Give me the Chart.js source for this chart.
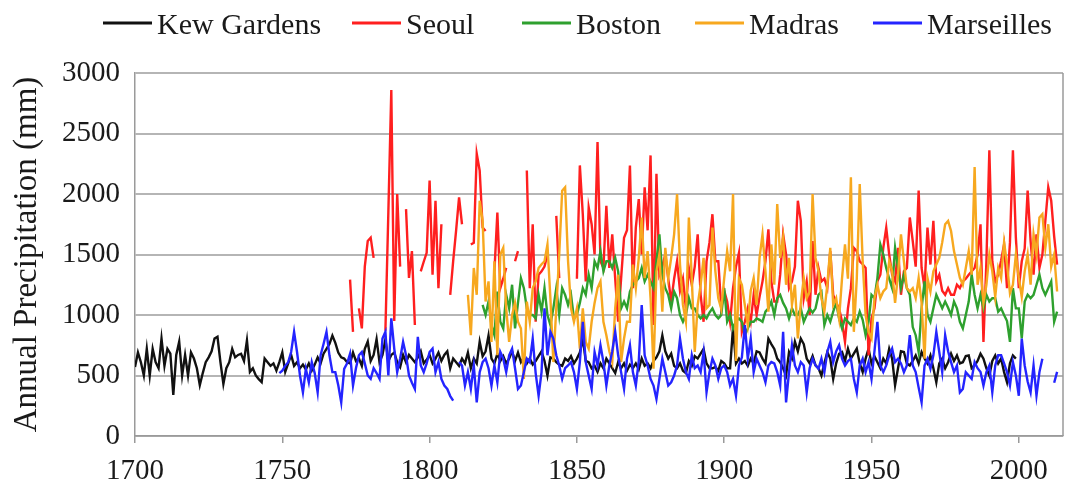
<!DOCTYPE html>
<html>
<head>
<meta charset="utf-8">
<script src="https://cdn.jsdelivr.net/npm/chart.js@4.4.1/dist/chart.umd.min.js"></script>
<style>
html,body{margin:0;padding:0;background:#fff;}
#wrap{width:1067px;height:486px;position:relative;}
</style>
</head>
<body>
<div id="wrap"><canvas id="c" width="1067" height="486"></canvas></div>
<script>
// ---- Data (annual precipitation, mm) ----
const seriesNames = ['Kew Gardens', 'Seoul', 'Boston', 'Madras', 'Marseilles'];
const xTicks = [1700, 1750, 1800, 1850, 1900, 1950, 2000];
const yTicks = [0, 500, 1000, 1500, 2000, 2500, 3000];

const kewStart = 1700;
const kewValues = [
  570, 690, 610, 500, 720, 500, 720, 610, 560, 805,
  580, 720, 680, 340, 670, 780, 500, 670, 500, 690,
  640, 560, 420, 520, 610, 650, 700, 805, 820, 610,
  430, 560, 610, 720, 650, 670, 680, 620, 790, 530,
  560, 500, 470, 445, 640, 610, 580, 600, 540, 610,
  690, 530, 600, 670, 580, 610, 560, 590, 550, 600,
  540, 590, 650, 600, 680, 720, 760, 830, 770, 690,
  650, 640, 610, 600, 690, 620, 640, 580, 720, 780,
  620, 670, 800, 610, 670, 800, 620, 670, 690, 610,
  570, 670, 610, 670, 640, 610, 650, 700, 600, 630,
  670, 600, 640, 690, 620, 670, 700, 560, 640, 610,
  580, 640, 600, 690, 560, 640, 600, 780, 660, 700,
  830, 640, 600, 680, 620, 660, 600, 640, 700, 620,
  690, 610, 650, 600, 640, 590, 620, 660, 700, 620,
  500, 650, 640, 610, 590, 580, 640, 620, 660, 600,
  640, 690, 805, 620, 610, 560, 580, 530, 600, 560,
  640, 600, 560, 520, 610, 560, 600, 540, 590, 560,
  600, 550, 640, 580, 600, 560, 620, 650, 700, 830,
  700, 640, 680, 580, 560, 600, 540, 520, 620, 580,
  660, 640, 680, 720, 600, 560, 560, 570, 540, 620,
  600, 560, 560, 900, 600, 640, 600, 620, 580, 640,
  600, 700, 690, 640, 600, 805, 760, 720, 640, 610,
  560, 500, 694, 640, 780, 700, 805, 760, 640, 600,
  660, 583, 560, 500, 600, 694, 640, 472, 600, 680,
  694, 620, 722, 640, 680, 722, 600, 528, 640, 722,
  600, 660, 610, 560, 639, 600, 722, 640, 420, 560,
  700, 694, 600, 583, 620, 666, 600, 694, 640, 600,
  666, 560, 444, 600, 639, 560, 610, 680, 620, 666,
  600, 610, 660, 666, 560, 583, 620, 680, 639, 560,
  500, 620, 666, 600, 640, 528, 444, 600, 666, 640
];

const seoulStart = 1773;
const seoulValues = [
  1292, 861, null, 1055, 889, 1400, 1611,
  1639, 1472, null, null, null, 870, 1850, 2860, 950, 2000,
  1400, null, 1875, 1306, 1528, 917, null, 1361, 1440, 1514,
  2111, 1333, 1944, 1222, 1750, null, null, 1167, 1445, 1700,
  1972, 1750, null, null, 1583, 1597, 2333, 2194, 1722, 1694,
  null, null, 1361, 1847, 1222, 1300, 1389, null, null, 1444,
  1528, null, null, 2194, 1222, 1750, 944, 1333, 1361, 1400,
  1500, null, null, 1819, 1305, null, null, null, null, null,
  1300, 2236, 1833, 1278, 1889, 1750, 1500, 2430, 1444, 1389,
  1903, 1389, 1667, 1300, 944, 1300, 1639, 1700, 2236, 1222,
  1722, 1958, 1500, 2056, 1700, 2319, 917, 2167, 1333, 1400,
  1500, 1300, 1111, 1300, 1444, 1200, 1300, 1055, 1389, 1250,
  1400, 1667, 1167, 944, 1444, 1600, 1833, 1444, 1444, 1055,
  1200, 1111, 944, 1222, 1400, 1514, 861, 944, 1055, 944,
  1167, 1000, 1150, 1278, 1444, 1708, 1278, 1111, 1111, 1333,
  1667, 1500, 1222, 1278, 1400, 1944, 1778, 1139, 1278, 1000,
  1611, 1167, 1389, 1278, 1300, 1222, 1528, 1167, 1100, 1055,
  944, 778, 1055, 1222, 1555, 1528, 1444, 1420, 1389, 667,
  972, 1055, 1278, 1333, 1555, 1722, 1500, 1333, 1278, 1555,
  1167, 1361, 1389, 1806, 1611, 1400, 2028, 1389, 1222, 1722,
  1417, 1778, 1278, 1333, 1200, 1167, 1222, 1167, 1167, 1250,
  1222, 1278, 1300, 1333, 1361, 1389, 1500, 1750, 778, 1444,
  2361, 1444, 1278, 1333, 1450, 1583, 1222, 1600, 2361, 1639,
  1222, 1444, 1550, 2028, 1611, 1333, 1667, 1389, 1500, 1778,
  2056, 1944, 1650, 1417
];

const bostonStart = 1818;
const bostonValues = [
  1083, 1000,
  1111, 917, 833, 1194, 944, 889, 1167, 1055, 1250, 889,
  1100, 1305, 1222, 1055, 1000, 1000, 972, 1167, 1028, 1222,
  1000, 917, 1055, 1222, 1000, 1222, 1167, 1083, 1167, 972,
  1000, 1100, 1222, 1167, 1333, 1222, 1444, 1389, 1528, 1361,
  1444, 1444, 1389, 1472, 1361, 1055, 1111, 1055, 1194, 1250,
  1278, 1305, 1389, 1278, 1333, 1278, 1222, 1450, 1667, 1333,
  1222, 1167, 1055, 1194, 1139, 1000, 944, 1000, 1139, 1055,
  1055, 1000, 972, 1000, 972, 1020, 1055, 1000, 972, 1000,
  1222, 944, 1000, 889, 950, 972, 944, 833, 889, 944,
  944, 972, 960, 944, 1028, 1055, 1111, 1000, 1139, 1167,
  1100, 1055, 972, 1055, 1000, 1000, 1055, 944, 1000, 1055,
  1020, 1055, 1167, 1194, 917, 1000, 944, 1028, 1100, 972,
  889, 972, 944, 917, 972, 944, 1028, 960, 833, 944,
  1167, 1139, 1305, 1583, 1500, 1389, 1300, 1222, 1555, 1389,
  1222, 1333, 1222, 1167, 900, 833, 694, 1055, 1278, 1000,
  944, 1055, 1167, 1111, 1055, 1111, 1060, 1000, 1111, 1055,
  944, 889, 1000, 1111, 1333, 1167, 1055, 1167, 1055, 1167,
  1111, 1139, 1139, 1028, 1055, 1000, 950, 778, 1222, 1055,
  1055, 806, 1111, 1167, 1139, 1167, 1250, 1333, 1222, 1167,
  1222, 1278, 944, 1028
];

const madrasStart = 1813;
const madrasValues = [
  1167, 833, 1389, 1167, 1944, 1778, 1111,
  1278, 778, 1444, 667, 1500, 1555, 1055, 778, 1000, 1100,
  944, 889, 472, 1111, 944, 1222, 1278, 1389, 1420, 1444,
  1583, 1139, 611, 1055, 1500, 2028, 2056, 1444, 1055, 944,
  1055, 722, 1055, 778, 722, 944, 1100, 1222, 1278, 944,
  833, 700, 611, 1055, 1333, 611, 806, 944, 944, 1417,
  1222, 1472, 1806, 1305, 1528, 1139, 556, 1361, 1500, 1028,
  1555, 1305, 1472, 1667, 2000, 1417, 1083, 944, 1806, 1305,
  694, 1083, 1250, 1472, 1055, 1083, 1722, 1361, 1139, 1050,
  1305, 1528, 1361, 2000, 620, 1305, 1250, 1083, 917, 1200,
  1305, 1083, 1472, 1667, 1361, 1028, 1583, 1250, 1917, 1472,
  1639, 1250, 1472, 1083, 1250, 806, 1100, 1305, 1139, 1194,
  2000, 1472, 1361, 1139, 1028, 1250, 1555, 1083, 1139, 972,
  1305, 1583, 1300, 2139, 861, 1300, 2083, 1444, 1000, 861,
  805, 1139, 1250, 1139, 1194, 1222, 1444, 1361, 1100, 1333,
  1667, 1444, 1222, 1194, 1222, 1139, 1306, 1100, 639, 1306,
  1194, 1361, 1417, 1472, 1600, 1750, 1778, 1694, 1528, 1417,
  1306, 1250, 1389, 1528, 1333, 2222, 1250, 1389, 1100, 1250,
  1500, 1361, 1150, 1389, 1306, 1600, 1420, 1180, 1250, 1500,
  1306, 1150, 1361, 1500, 1250, 1667, 1500, 1806, 1833, 1555,
  1750, 1400, 1500, 1194
];

const marseillesStart = 1749;
const marseillesValues = [
  520,
  540, 580, 610, 694, 861, 694, 500, 361, 555, 444,
  611, 520, 361, 667, 760, 861, 667, 528, 528, 420,
  278, 555, 600, 680, 417, 560, 667, 694, 600, 500,
  472, 560, 520, 472, 805, 861, 500, 972, 722, 528,
  640, 778, 667, 500, 440, 389, 820, 583, 528, 600,
  694, 722, 528, 611, 472, 417, 389, 330, 292, null,
  611, 583, 417, 528, 389, 583, 278, 528, 611, 639,
  560, 417, 583, 444, 694, 639, 528, 667, 722, 560,
  389, 417, 528, 639, 611, 805, 520, 333, 528, 1055,
  667, 861, 805, 667, 583, 472, 560, 583, 611, 528,
  389, 611, 944, 611, 500, 389, 694, 583, 750, 611,
  417, 583, 700, 861, 667, 528, 389, 639, 750, 528,
  417, 620, 1083, 667, 583, 472, 417, 305, 472, 639,
  528, 417, 444, 500, 583, 805, 639, 528, 472, 667,
  560, 583, 528, 694, 361, 528, 639, 583, 472, 560,
  583, 528, 417, 472, 333, 583, 650, 916, 639, 805,
  528, 639, 583, 528, 444, 583, 611, 600, 528, 417,
  861, 278, 528, 750, 583, 528, 611, 583, 361, 560,
  639, 583, 555, 639, 528, 694, 778, 611, 700, 750,
  639, 583, 620, 639, 472, 361, 583, 639, 528, 611,
  472, 700, 944, 583, 528, 583, 667, 722, 611, 639,
  600, 528, 583, 833, 583, 528, 400, 278, 583, 639,
  555, 667, 861, 694, 528, 833, 700, 611, 528, 583,
  361, 389, 528, 500, 472, 611, 560, 528, 417, 528,
  583, 361, 583, 667, 667, 600, 528, 417, 611, 500,
  333, 805, 583, 450, 361, 583, 333, 528, 639, null,
  null, null, 440, 530
];

const seriesColors = ['#111111', '#ff1f1f', '#2ea02e', '#f7a81f', '#2424ff'];

// ---- Build datasets ----
function toPoints(start, values) {
  return values.map((v, i) => ({ x: start + i, y: v }));
}
const seriesData = [
  toPoints(kewStart, kewValues),
  toPoints(seoulStart, seoulValues),
  toPoints(bostonStart, bostonValues),
  toPoints(madrasStart, madrasValues),
  toPoints(marseillesStart, marseillesValues)
];

const FONT = 'Liberation Serif';

// Custom legend drawn at top (line sample + label)
const topLegend = {
  id: 'topLegend',
  afterDraw(chart) {
    const ctx = chart.ctx;
    const lineStarts = [103, 352, 522, 695, 873];
    const lineLen = 49, gap = 5, yLine = 23, yText = 34;
    ctx.save();
    ctx.font = '30px "' + FONT + '"';
    ctx.textBaseline = 'alphabetic';
    ctx.textAlign = 'left';
    chart.data.datasets.forEach((ds, i) => {
      const x0 = lineStarts[i];
      ctx.strokeStyle = ds.borderColor;
      ctx.lineWidth = 3;
      ctx.beginPath();
      ctx.moveTo(x0, yLine);
      ctx.lineTo(x0 + lineLen, yLine);
      ctx.stroke();
      ctx.fillStyle = '#1a1a1a';
      ctx.fillText(ds.label, x0 + lineLen + gap, yText);
    });
    ctx.restore();
  }
};

// Right frame line of plot area
const frameRight = {
  id: 'frameRight',
  afterDraw(chart) {
    const { ctx, chartArea: a } = chart;
    ctx.save();
    ctx.strokeStyle = '#9a9a9a';
    ctx.lineWidth = 1.5;
    ctx.beginPath();
    ctx.moveTo(a.right, a.top);
    ctx.lineTo(a.right, a.bottom);
    ctx.stroke();
    ctx.restore();
  }
};

const drawOrder = [5, 4, 3, 2, 1];

new Chart(document.getElementById('c'), {
  type: 'line',
  data: {
    datasets: seriesNames.map((name, i) => ({
      label: name,
      data: seriesData[i],
      borderColor: seriesColors[i],
      backgroundColor: seriesColors[i],
      borderWidth: 2.4,
      pointRadius: 0,
      pointHoverRadius: 0,
      tension: 0,
      spanGaps: false,
      fill: false,
      order: drawOrder[i]
    }))
  },
  options: {
    responsive: false,
    animation: false,
    devicePixelRatio: 1,
    parsing: true,
    layout: { padding: { top: 73, right: 4, bottom: 0, left: 0 } },
    plugins: {
      legend: { display: false },
      tooltip: { enabled: false }
    },
    scales: {
      x: {
        type: 'linear',
        min: 1700,
        max: 2015,
        afterFit(s) { s.height = 50; },
        afterBuildTicks(s) { s.ticks = xTicks.map(v => ({ value: v })); },
        ticks: {
          autoSkip: false,
          maxRotation: 0,
          padding: 11,
          color: '#1a1a1a',
          font: { family: FONT, size: 29 },
          callback: v => String(v)
        },
        grid: { drawOnChartArea: false, drawTicks: true, tickLength: 7, color: '#9a9a9a', lineWidth: 1.5 },
        border: { display: true, color: '#9a9a9a', width: 1.5 }
      },
      y: {
        min: 0,
        max: 3000,
        afterFit(s) { s.width = 135; },
        afterBuildTicks(s) { s.ticks = yTicks.map(v => ({ value: v })); },
        ticks: {
          padding: 15,
          color: '#1a1a1a',
          font: { family: FONT, size: 29 },
          callback: v => String(v)
        },
        grid: { drawTicks: false, color: '#b5b5b5', lineWidth: 2 },
        border: { display: true, color: '#9a9a9a', width: 1.5 },
        title: {
          display: true,
          text: 'Annual Precipitation (mm)',
          color: '#1a1a1a',
          font: { family: FONT, size: 33 },
          padding: { top: 8, bottom: 0 }
        }
      }
    }
  },
  plugins: [topLegend, frameRight]
});
</script>
</body>
</html>
